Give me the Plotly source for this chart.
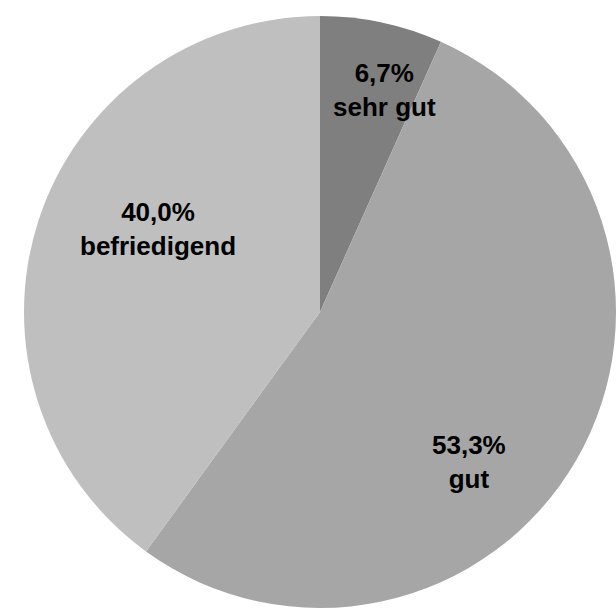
import math
import plotly.graph_objects as go

labels = ["sehr gut", "gut", "befriedigend"]
values = [6.7, 53.3, 40.0]
colors = ["#7f7f7f", "#a6a6a6", "#bfbfbf"]

# label placement inside each slice: (fraction along the slice's arc, fraction of radius)
label_arc_frac = [0.676, 0.579, 0.563]
label_rad_frac = [0.781, 0.714, 0.615]

texts = ["<b>" + f"{v:.1f}".replace(".", ",") + "%<br>" + l + "</b>" for v, l in zip(values, labels)]

W, H = 616, 615
x0, x1, ytop, ybot = 24, 616, 16, 608
fig = go.Figure(go.Pie(
    labels=labels,
    values=values,
    textinfo="none",
    sort=False,
    direction="clockwise",
    rotation=0,
    marker=dict(colors=colors, line=dict(width=0)),
    hoverinfo="label+percent",
    domain=dict(x=[x0 / W, x1 / W], y=[(H - ybot) / H, (H - ytop) / H]),
    showlegend=False,
))

cx, cy = (x0 + x1) / 2, (ytop + ybot) / 2
r = min(x1 - x0, ybot - ytop) / 2
total = sum(values)
cum = 0.0
annotations = []
for v, t, af, rf in zip(values, texts, label_arc_frac, label_rad_frac):
    a0 = cum / total * 360
    a1 = (cum + v) / total * 360
    cum += v
    th = math.radians(a0 + af * (a1 - a0))
    px = cx + rf * r * math.sin(th)
    py = cy - rf * r * math.cos(th)
    annotations.append(dict(
        x=px / W, y=1 - py / H, xref="paper", yref="paper",
        text=t, showarrow=False, xanchor="center", yanchor="middle",
        font=dict(family="Liberation Sans, Arial, sans-serif", size=26, color="black"),
    ))

fig.update_layout(
    width=W, height=H,
    margin=dict(l=0, r=0, t=0, b=0),
    paper_bgcolor="white",
    plot_bgcolor="white",
    font=dict(family="Liberation Sans, Arial, sans-serif"),
    annotations=annotations,
)
fig.write_html("out.html")
